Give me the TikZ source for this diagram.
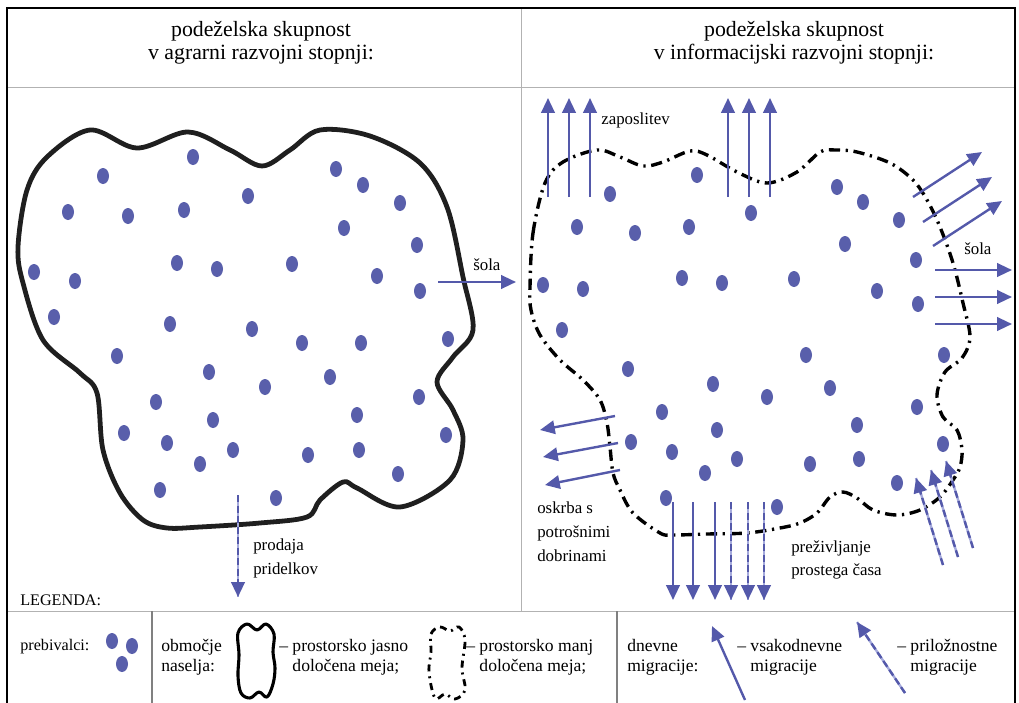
\documentclass[tikz,border=0pt]{standalone}
\usepackage{fontspec}
\setmainfont{Liberation Serif}
\usetikzlibrary{arrows.meta}
\definecolor{dotblue}{RGB}{89,95,171}
\definecolor{arrowblue}{RGB}{84,89,170}
\definecolor{paleblue}{RGB}{165,170,220}
\tikzset{
  person/.style={fill=dotblue},
  hardedge/.style={line width=3.4pt, black!88, line join=round},
  softedge/.style={line width=2.4pt, dash pattern=on 8pt off 4pt on 1.6pt off 4pt},
  daily/.style={arrowblue, line width=1.7pt, -{Triangle[length=10.5pt,width=9.5pt]}},
  occasional/.style={arrowblue, line width=1.7pt, dash pattern=on 5pt off 2.5pt,
    -{Triangle[length=10.5pt,width=9.5pt]},
    preaction={draw, paleblue, line width=1.7pt, solid, -}},
  headtxt/.style={font=\fontsize{15.5}{16.5}\selectfont, align=center},
  lbl/.style={font=\fontsize{12}{17}\selectfont, align=left, anchor=north west, inner sep=0pt},
  legtxt/.style={font=\fontsize{12.5}{14.2}\selectfont, align=left, anchor=west, inner sep=0pt},
}
\begin{document}
\begin{tikzpicture}[x=0.025cm, y=-0.025cm]
  \useasboundingbox (0,0) rectangle (1019,703);
  % Frame and dividers
  \draw[gray!60, line width=0.6pt] (7,87) -- (1015,87);
  \draw[gray!60, line width=0.6pt] (7,611) -- (1015,611);
  \draw[gray!60, line width=0.6pt] (521,8) -- (521,611);
  \draw[gray, line width=0.8pt] (152,611) -- (152,703);
  \draw[gray, line width=0.8pt] (617,611) -- (617,703);
  \draw[line width=0.8pt] (7,703) -- (7,8) -- (1015,8) -- (1015,703);
  % Headings
  \node[headtxt] (agrhead) at (261,43) {podeželska skupnost\\v agrarni razvojni stopnji:};
  \node[headtxt] (infhead) at (794,43) {podeželska skupnost\\v informacijski razvojni stopnji:};

  % Agrarian community: clearly bounded settlement
  \draw[hardedge] plot[smooth cycle, tension=0.55] coordinates {
    (90,130) (137,148) (188,132) (230,150) (262,166) (290,150) (320,130) (370,136)
    (420,163) (447,207) (463,277) (473,330) (453,357) (437,382) (453,410) (463,440)
    (450,480) (400,507) (357,488) (343,482) (320,500) (307,517) (260,523) (200,527)
    (167,528) (143,520) (120,493) (103,450) (97,393) (80,373) (43,340) (23,283)
    (18,247) (27,190) (47,157)};
  \foreach \x/\y in {103/176, 193/157, 248/196, 68/212, 128/216, 184/210, 336/169,
      363/185, 400/203, 344/228, 417/245, 34/272, 75/281, 177/263, 217/269, 292/264,
      377/276, 420/291, 54/317, 170/324, 252/329, 302/343, 361/343, 448/339, 117/356,
      209/372, 265/387, 330/377, 419/397, 156/402, 213/420, 357/415, 446/435, 124/433,
      167/443, 233/450, 308/455, 359/450, 200/464, 398/474, 276/498, 160/490}
    \fill[person] (\x,\y) ellipse (6 and 8);
  % school and selling of produce
  \draw[daily] (438,282) -- (516,282);
  \node[lbl] (sola1) at (473,258) {šola};
  \draw[occasional] (238,495) -- (238,597);
  \node[lbl] (prodaja) at (253,539) {prodaja\\pridelkov};

  % Information community: loosely bounded settlement
  \draw[softedge] plot[smooth cycle, tension=0.55] coordinates {
    (530,287) (533,233) (545,183) (563,162) (597,150) (620,157) (643,166) (663,162)
    (690,151) (707,155) (737,172) (767,183) (797,172) (820,152) (835,150) (857,152)
    (890,163) (913,180) (927,200) (940,227) (953,263) (963,303) (970,337) (962,358)
    (945,372) (937,395) (943,417) (957,430) (962,450) (960,467) (953,480) (940,497)
    (920,510) (897,515) (873,510) (857,498) (843,492) (830,497) (817,513) (800,523)
    (780,528) (747,533) (707,534) (673,535) (660,533) (633,513) (620,490) (613,473)
    (610,447) (607,423) (600,400) (583,380) (560,360) (540,335) (531,310)};
  \foreach \x/\y in {610/194, 697/175, 577/227, 635/233, 689/227, 751/213, 543/285,
      583/289, 682/278, 722/283, 837/187, 863/202, 899/220, 845/244, 916/260, 794/279,
      877/291, 918/304, 713/384, 767/397, 662/412, 717/430, 631/442, 672/452, 737/459,
      705/473, 666/498, 777/507, 830/388, 917/407, 857/425, 943/444, 810/464, 859/459,
      897/483, 562/330, 628/369, 806/355, 944/355}
    \fill[person] (\x,\y) ellipse (6 and 8);
  % employment
  \foreach \x in {548,569,590,728,749,770}
    \draw[daily] (\x,197) -- (\x,98);
  \node[lbl] (zaposlitev) at (601,113) {zaposlitev};
  % school
  \draw[daily] (913,197) -- (982,152);
  \draw[daily] (923,222) -- (992,177);
  \draw[daily] (933,246) -- (1002,201);
  \foreach \y in {270,297,324}
    \draw[daily] (935,\y) -- (1012,\y);
  \node[lbl] (sola2) at (964,242) {šola};
  % shopping
  \draw[daily] (615,416) -- (540,430);
  \draw[daily] (618,443) -- (543,457);
  \draw[daily] (620,470) -- (545,485);
  \node[lbl] (oskrba) at (537,502) {oskrba s\\potrošnimi\\dobrinami};
  % leisure
  \foreach \x in {673,693,715}
    \draw[daily] (\x,502) -- (\x,600);
  \foreach \x in {731,748,764}
    \draw[occasional] (\x,502) -- (\x,600);
  \node[lbl] (prosti) at (791,540) {preživljanje\\prostega časa};
  \draw[occasional] (943,565) -- (916,478);
  \draw[occasional] (958,557) -- (931,470);
  \draw[occasional] (973,548) -- (946,461);

  % Legend
  \node[font=\fontsize{11.5}{13}\selectfont, anchor=base west, inner sep=0pt] (legenda) at (20,605) {LEGENDA:};
  \node[legtxt, font=\fontsize{11.5}{14.2}\selectfont] (prebivalci) at (20,647) {prebivalci:};
  \fill[person] (112,641) ellipse (6 and 8);
  \fill[person] (132,646) ellipse (6 and 8);
  \fill[person] (122,664) ellipse (6 and 8);
  \node[legtxt] (obmocje) at (161,657) {območje\\naselja:};
  \draw[line width=2.2pt, line join=round] plot[smooth cycle, tension=0.6] coordinates {
    (238,633) (247,624) (257,630) (266,624) (274,634) (273,652) (275,668) (273,684)
    (267,697) (259,692) (250,698) (241,693) (238,676) (239,655)};
  \node[legtxt] (jasno) at (279,657) {–~prostorsko jasno\\\hphantom{–~}določena meja;};
  \draw[line width=2pt, dash pattern=on 5pt off 3.5pt on 1.4pt off 3.5pt] plot[smooth cycle, tension=0.6] coordinates {
    (431,634) (440,627) (450,631) (459,627) (465,640) (462,668) (465,690) (455,699)
    (445,694) (435,698) (429,672) (431,652)};
  \node[legtxt] (manj) at (466,657) {–~prostorsko manj\\\hphantom{–~}določena meja;};
  \node[legtxt] (dnevne) at (627,657) {dnevne\\migracije:};
  \draw[daily] (745,700) -- (712,626);
  \node[legtxt] (vsako) at (737,657) {–~vsakodnevne\\\hphantom{–~}migracije};
  \draw[occasional] (905,693) -- (857,622);
  \node[legtxt] (prilozn) at (897,657) {–~priložnostne\\\hphantom{–~}migracije};
\end{tikzpicture}
\end{document}
